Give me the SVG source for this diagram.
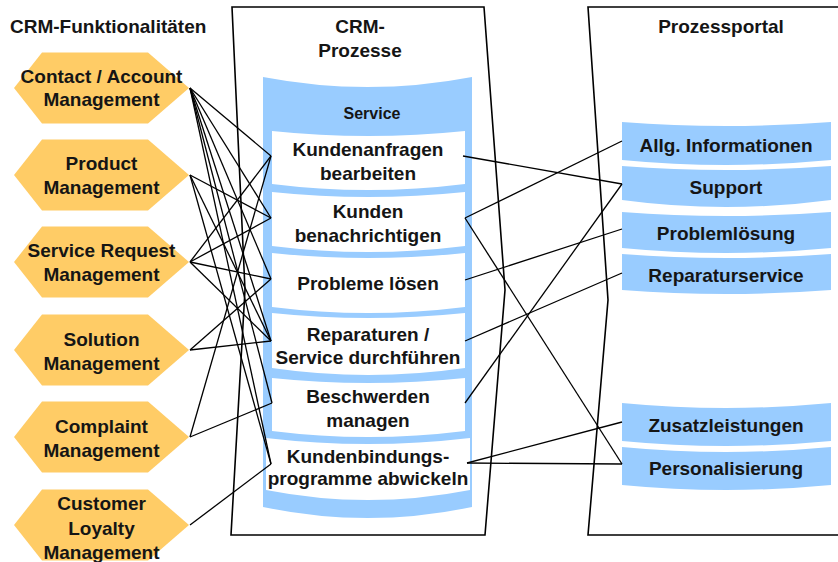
<svg xmlns="http://www.w3.org/2000/svg" width="838" height="562" viewBox="0 0 838 562">
<style>
.hex{fill:#FFCC66}
.blue{fill:#99CCFF}
.white{fill:#FFFFFF}
.frame{fill:none;stroke:#000;stroke-width:1.6}
.t{font-family:"Liberation Sans",Arial,sans-serif;font-weight:bold;font-size:19px;fill:#151515;text-anchor:middle}
.s{font-size:16px}
.conn line{stroke:#000;stroke-width:1.3}
</style>
<rect width="838" height="562" fill="#FFFFFF"/>

<g id="headers">
<text class="t" x="10" y="33" style="text-anchor:start">CRM-Funktionalitäten</text>
<text class="t" x="360" y="33">CRM-</text>
<text class="t" x="360" y="57">Prozesse</text>
<text class="t" x="721" y="33">Prozessportal</text>
</g>

<g id="frames">
<polygon class="frame" points="232,7 484,7 505,290 485,535 231,535 245,290"/>
<polyline class="frame" points="840,7 588,7 608,300 588,535 840,535"/>
</g>

<g id="hex-contact"><polygon class="hex" points="14,88 42,52.5 148,52.5 189,88 148,123.5 42,123.5"/>
<text class="t" x="101.5" y="83">Contact / Account</text><text class="t" x="101.5" y="106">Management</text></g>
<g id="hex-product"><polygon class="hex" points="14,175 42,139.5 148,139.5 189,175 148,210.5 42,210.5"/>
<text class="t" x="101.5" y="170">Product</text><text class="t" x="101.5" y="194">Management</text></g>
<g id="hex-servicerequest"><polygon class="hex" points="14,262 42,226.5 148,226.5 189,262 148,297.5 42,297.5"/>
<text class="t" x="101.5" y="257">Service Request</text><text class="t" x="101.5" y="281">Management</text></g>
<g id="hex-solution"><polygon class="hex" points="14,350 42,314.5 148,314.5 189,350 148,385.5 42,385.5"/>
<text class="t" x="101.5" y="346">Solution</text><text class="t" x="101.5" y="370">Management</text></g>
<g id="hex-complaint"><polygon class="hex" points="14,437 42,401.5 148,401.5 189,437 148,472.5 42,472.5"/>
<text class="t" x="101.5" y="433">Complaint</text><text class="t" x="101.5" y="457">Management</text></g>
<g id="hex-loyalty"><polygon class="hex" points="14,525 42,489.5 148,489.5 189,525 148,560.5 42,560.5"/>
<text class="t" x="101.5" y="510">Customer</text><text class="t" x="101.5" y="535">Loyalty</text><text class="t" x="101.5" y="559">Management</text></g>

<g id="service-column">
<path class="blue" d="M263,77 Q368,97 472,77 L472,507 Q368,529 263,507 Z"/>
<text class="t s" x="372" y="119">Service</text>
</g>

<g id="proc-anfragen"><path class="white" d="M272,131 Q368,141 465,131 L465,184 Q368,196 272,184 Z"/>
<text class="t" x="368" y="156">Kundenanfragen</text><text class="t" x="368" y="180">bearbeiten</text></g>
<g id="proc-benachrichtigen"><path class="white" d="M272,192 Q368,202 465,192 L465,246 Q368,258 272,246 Z"/>
<text class="t" x="368" y="218">Kunden</text><text class="t" x="368" y="242">benachrichtigen</text></g>
<g id="proc-probleme"><path class="white" d="M272,253 Q368,263 465,253 L465,307 Q368,319 272,307 Z"/>
<text class="t" x="368" y="290">Probleme lösen</text></g>
<g id="proc-reparaturen"><path class="white" d="M272,313 Q368,323 465,313 L465,368 Q368,382 272,368 Z"/>
<text class="t" x="368" y="341">Reparaturen /</text><text class="t" x="368" y="364">Service durchführen</text></g>
<g id="proc-beschwerden"><path class="white" d="M272,378 Q368,388 465,378 L465,431 Q368,443 272,431 Z"/>
<text class="t" x="368" y="403">Beschwerden</text><text class="t" x="368" y="427">managen</text></g>
<g id="proc-kundenbindung"><path class="white" d="M266,438 Q368,450 470,438 L470,490 Q368,510 266,490 Z"/>
<text class="t" x="368" y="463">Kundenbindungs-</text><text class="t" x="368" y="485">programme abwickeln</text></g>

<g id="portal-allg"><path class="blue" d="M622,122 Q726,130 831,122 L831,160 Q726,170 622,160 Z"/>
<text class="t" x="726" y="152">Allg. Informationen</text></g>
<g id="portal-support"><path class="blue" d="M622,166 Q726,174 831,166 L831,200 Q726,214 622,200 Z"/>
<text class="t" x="726" y="194">Support</text></g>
<g id="portal-problemloesung"><path class="blue" d="M622,212 Q726,220 831,212 L831,248 Q726,258 622,248 Z"/>
<text class="t" x="726" y="240">Problemlösung</text></g>
<g id="portal-reparaturservice"><path class="blue" d="M622,254 Q726,262 831,254 L831,290 Q726,298 622,290 Z"/>
<text class="t" x="726" y="282">Reparaturservice</text></g>
<g id="portal-zusatz"><path class="blue" d="M622,403 Q726,413 831,403 L831,441 Q726,451 622,441 Z"/>
<text class="t" x="726" y="432">Zusatzleistungen</text></g>
<g id="portal-personalisierung"><path class="blue" d="M622,447 Q726,457 831,447 L831,485 Q726,495 622,485 Z"/>
<text class="t" x="726" y="475">Personalisierung</text></g>

<g id="connectors" class="conn">
<line x1="190" y1="88" x2="271" y2="156"/>
<line x1="190" y1="88" x2="271" y2="218"/>
<line x1="190" y1="88" x2="271" y2="279"/>
<line x1="190" y1="88" x2="271" y2="341"/>
<line x1="190" y1="88" x2="272" y2="403"/>
<line x1="190" y1="88" x2="271" y2="464"/>
<line x1="190" y1="175" x2="271" y2="218"/>
<line x1="190" y1="175" x2="271" y2="341"/>
<line x1="190" y1="175" x2="271" y2="464"/>
<line x1="190" y1="262" x2="271" y2="156"/>
<line x1="190" y1="262" x2="271" y2="218"/>
<line x1="190" y1="262" x2="271" y2="279"/>
<line x1="190" y1="262" x2="271" y2="341"/>
<line x1="190" y1="350" x2="271" y2="279"/>
<line x1="190" y1="350" x2="271" y2="341"/>
<line x1="190" y1="437" x2="271" y2="156"/>
<line x1="190" y1="437" x2="272" y2="403"/>
<line x1="190" y1="525" x2="271" y2="464"/>
<line x1="463" y1="156" x2="622" y2="184"/>
<line x1="465" y1="218" x2="622" y2="141"/>
<line x1="465" y1="218" x2="622" y2="464"/>
<line x1="465" y1="280" x2="622" y2="229"/>
<line x1="465" y1="341" x2="622" y2="273"/>
<line x1="465" y1="403" x2="622" y2="184"/>
<line x1="467" y1="463" x2="622" y2="422"/>
<line x1="467" y1="463" x2="622" y2="464"/>
</g>
</svg>
